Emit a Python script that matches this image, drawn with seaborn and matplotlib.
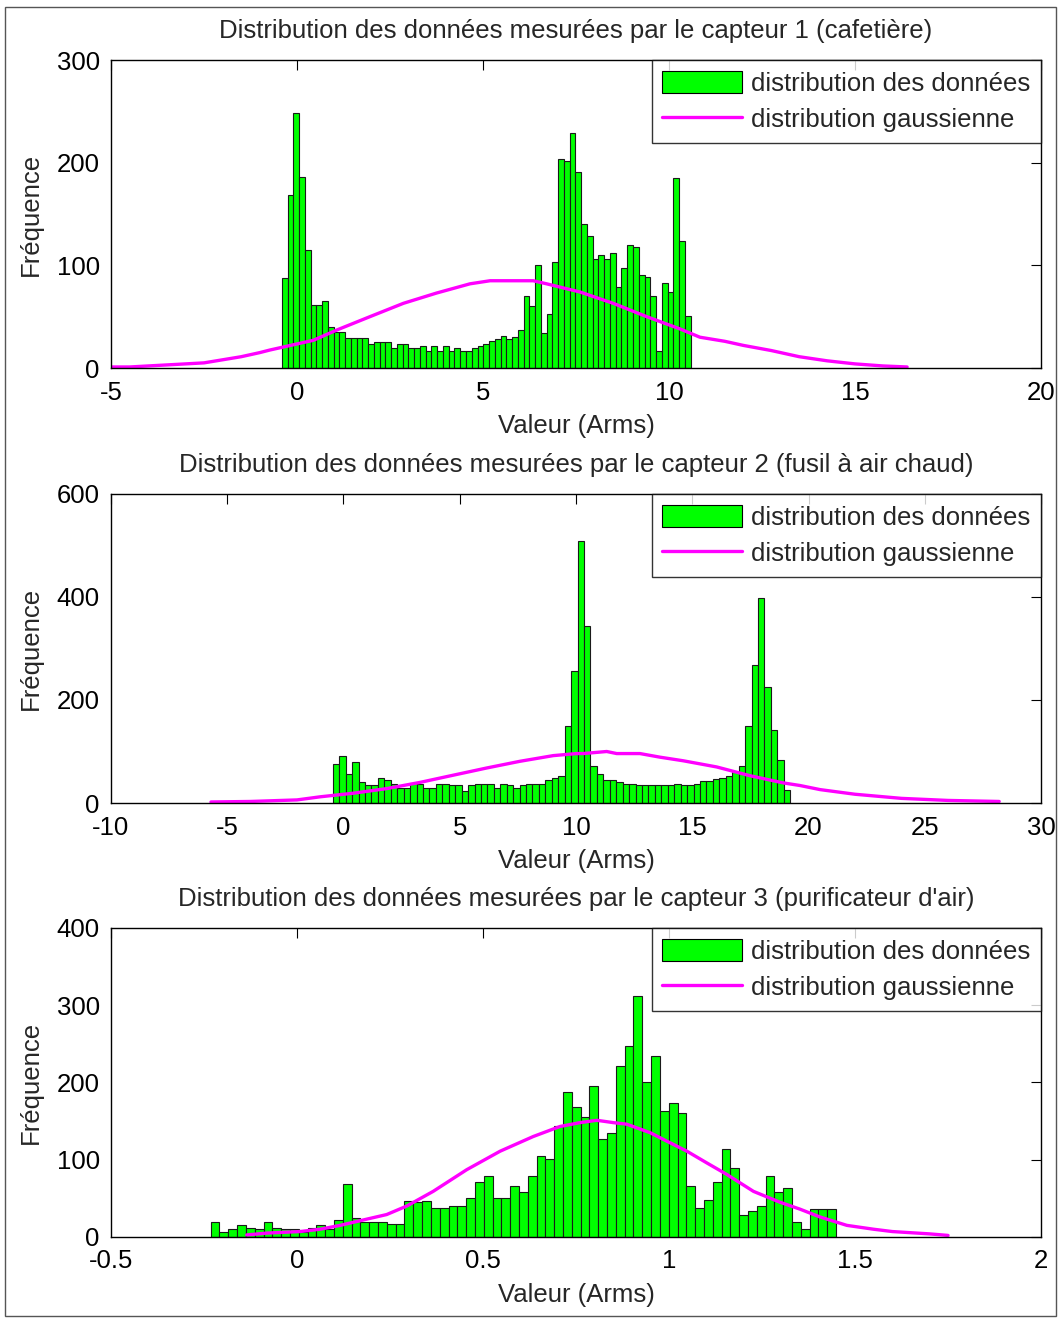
import numpy as np
import matplotlib
matplotlib.use('Agg')
import matplotlib.pyplot as plt
import seaborn as sns
from matplotlib.patches import Patch, Rectangle
from matplotlib.lines import Line2D
from matplotlib.ticker import FormatStrFormatter

# histogram counts (71 bins per sensor)
counts1 = [88, 169, 248, 186, 115, 61, 61, 65, 40, 35,
           35, 29, 29, 29, 29, 23, 25, 25, 25, 19,
           23, 23, 19, 19, 21, 17, 21, 17, 21, 17,
           19, 17, 17, 19, 21, 23, 26, 28, 31, 28,
           30, 37, 70, 60, 100, 34, 53, 103, 204, 202,
           229, 191, 140, 129, 106, 110, 106, 112, 79, 97,
           120, 118, 91, 89, 70, 17, 83, 74, 185, 124, 51]
range1 = (-0.41, 10.58)

counts2 = [76, 92, 56, 80, 41, 34, 34, 48, 45, 37,
           29, 29, 38, 37, 29, 29, 37, 37, 34, 34,
           24, 34, 37, 37, 37, 29, 37, 34, 29, 34,
           37, 37, 37, 45, 48, 53, 149, 256, 508, 343,
           71, 57, 45, 44, 41, 37, 37, 34, 34, 34,
           34, 34, 34, 37, 34, 34, 37, 42, 42, 46,
           49, 53, 61, 71, 149, 268, 398, 226, 141, 84, 26]
range2 = (-0.46, 19.21)

counts3 = [20, 7, 10, 15, 12, 10, 20, 12, 10, 10,
           6, 12, 15, 10, 22, 68, 25, 20, 20, 20,
           17, 17, 47, 45, 47, 38, 38, 40, 40, 50,
           71, 79, 50, 50, 66, 58, 79, 105, 101, 143,
           188, 168, 155, 196, 127, 134, 221, 247, 312, 201,
           234, 163, 173, 161, 66, 38, 48, 71, 114, 89,
           28, 33, 40, 79, 58, 64, 20, 10, 36, 36, 36]
range3 = (-0.232, 1.449)

# gaussian curves
gx1 = [-5, -4.5, -4, -3.5, -3, -2.5, -2, -1.5, -1, -0.73, 0.44, 1.07, 1.96, 2.86, 3.75,
       4.65, 5.19, 5.5, 6.0, 6.35, 6.71, 7.61, 8.5, 9.4, 10.3, 10.83, 11.5, 12, 12.75,
       13.5, 14.25, 15, 15.75, 16.4]
gy1 = [1, 1, 2, 3, 4, 5, 8, 11, 15, 17.5, 27, 37, 50, 63, 73,
       82, 85, 85, 85, 85, 82, 74, 63, 50, 38, 30, 26, 22, 17,
       11, 7, 4, 2, 1]

gx2 = [-5.7, -4, -2, -1.01, 0.42, 1.86, 3.29, 4.72, 6.16, 7.59, 9.02, 10.03, 10.31,
       11.32, 11.75, 12.75, 13.61, 14.61, 16.05, 17.48, 18.92, 19.63, 20.5, 22, 24, 26, 28.2]
gy2 = [2, 3, 6, 12, 19, 28, 40, 54, 68, 81, 92, 96, 96,
       100, 96, 96, 89, 82, 70, 53, 39, 34, 26, 17, 9, 5, 3]

gx3 = [-0.135, -0.081, 0.008, 0.062, 0.116, 0.187, 0.241, 0.295, 0.366, 0.456, 0.546,
       0.635, 0.707, 0.761, 0.806, 0.85, 0.886, 0.949, 0.994, 1.048, 1.101, 1.155,
       1.227, 1.298, 1.352, 1.405, 1.478, 1.55, 1.6, 1.7, 1.75]
gy3 = [2.6, 5, 7, 10, 15, 23, 29, 40, 59, 87, 111,
       130, 143, 148, 151, 148, 146, 135, 124, 111, 96, 81,
       59, 45, 36, 26, 15, 10, 7, 4, 2]

titles = ["Distribution des données mesurées par le capteur 1 (cafetière)",
          "Distribution des données mesurées par le capteur 2 (fusil à air chaud)",
          "Distribution des données mesurées par le capteur 3 (purificateur d'air)"]
xlims = [(-5, 20), (-10, 30), (-0.5, 2)]
xticks = [[-5, 0, 5, 10, 15, 20], [-10, -5, 0, 5, 10, 15, 20, 25, 30],
          [-0.5, 0, 0.5, 1, 1.5, 2]]
ylims = [(0, 300), (0, 600), (0, 400)]
yticks = [[0, 100, 200, 300], [0, 200, 400, 600], [0, 100, 200, 300, 400]]

sns.set_style('white')
plt.rcParams['font.family'] = ['Liberation Sans', 'DejaVu Sans']
plt.rcParams['axes.unicode_minus'] = False

fs = 18.5

fig = plt.figure(figsize=(10.61, 13.19), dpi=100)
fig.patches.append(Rectangle((0.005, 0.002), 0.990, 0.993, transform=fig.transFigure,
                             fill=False, edgecolor='#555555', linewidth=1))

positions = [[0.1046, 0.7210, 0.8766, 0.2335],
             [0.1046, 0.3912, 0.8766, 0.2343],
             [0.1046, 0.0622, 0.8766, 0.2343]]

all_counts = [counts1, counts2, counts3]
all_ranges = [range1, range2, range3]
curves = [(gx1, gy1), (gx2, gy2), (gx3, gy3)]

green = (0, 1, 0)
magenta = (1, 0, 1)

for i in range(3):
    ax = fig.add_axes(positions[i])
    c = np.array(all_counts[i], dtype=float)
    lo, hi = all_ranges[i]
    n = len(c)
    w = (hi - lo) / n
    centers = lo + w * (np.arange(n) + 0.5)
    sns.histplot(x=centers, weights=c, bins=n, binrange=(lo, hi), color=green,
                 alpha=1, edgecolor='#1a1a1a', linewidth=0.8, ax=ax)
    sns.lineplot(x=curves[i][0], y=curves[i][1], color=magenta, linewidth=2.4, ax=ax)

    ax.set_xlim(*xlims[i])
    ax.set_ylim(*ylims[i])
    ax.set_xticks(xticks[i])
    ax.set_yticks(yticks[i])
    ax.xaxis.set_major_formatter(FormatStrFormatter('%g'))
    ax.tick_params(direction='in', length=7, width=0.8, top=True, right=True,
                   labelsize=fs, colors='black')
    ax.tick_params(axis='x', pad=9)
    ax.tick_params(axis='y', pad=8)
    for s in ax.spines.values():
        s.set_color('black')
        s.set_linewidth(1)
    ax.set_title(titles[i], fontsize=fs, pad=16)
    ax.set_xlabel('Valeur (Arms)', fontsize=fs, labelpad=7)
    ax.set_ylabel('Fréquence', fontsize=fs, labelpad=10)

    handles = [Patch(facecolor=green, edgecolor='black', linewidth=0.8),
               Line2D([], [], color=magenta, linewidth=2.4)]
    leg = ax.legend(handles, ['distribution des données', 'distribution gaussienne'],
                    loc='upper right', fontsize=fs, frameon=True, fancybox=False,
                    borderaxespad=0, handlelength=3.1, handleheight=0.95,
                    handletextpad=0.35, labelspacing=0.45, borderpad=0.42)
    leg.get_frame().set_edgecolor('black')
    leg.get_frame().set_linewidth(1)

fig.savefig('out.png', dpi=100)
